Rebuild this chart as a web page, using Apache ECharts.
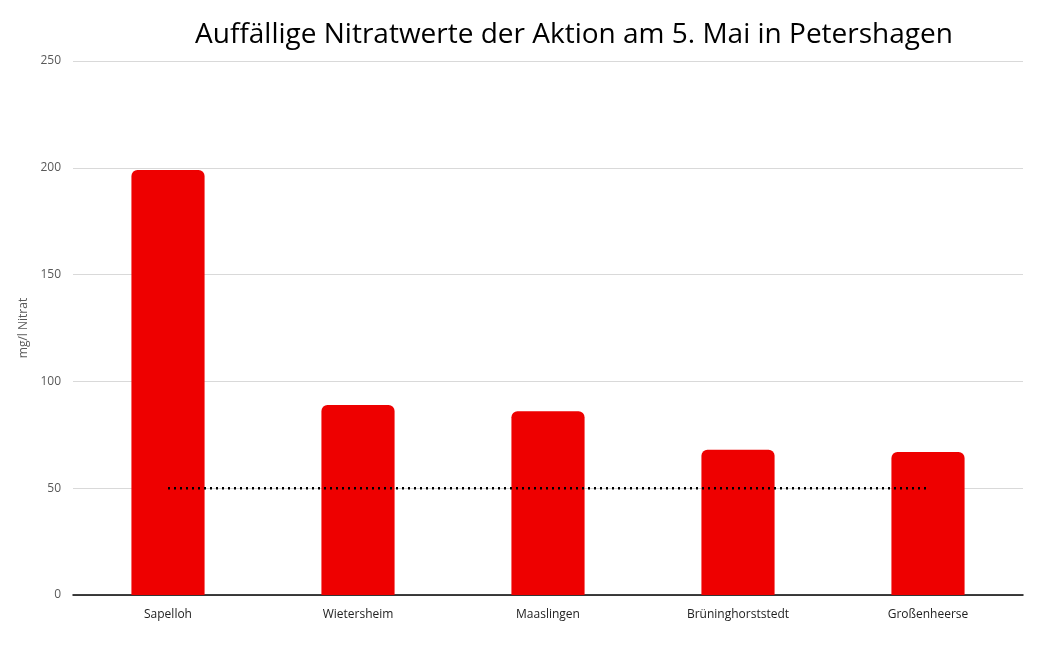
<!DOCTYPE html>
<html>
<head>
<meta charset="utf-8">
<script src="https://cdn.jsdelivr.net/npm/echarts@6/dist/echarts.min.js"></script>
<style>
    html, body { margin: 0; padding: 0; background: #fff; }
    #mainPart { width: 1050px; height: 645px; }
</style>
</head>
<body>
<div id="mainPart"></div>
<script>
// Messorte und Nitratwerte (mg/l)
var orte = ['Sapelloh', 'Wietersheim', 'Maaslingen', 'Brüninghorststedt', 'Großenheerse'];
var nitrat = [199, 89, 86, 68, 67];
// Grenzwert 50 mg/l
var grenzwert = [50, 50, 50, 50, 50];

var myChart = echarts.init(document.getElementById('mainPart'));

var option = {
    animation: false,
    title: {
        text: 'Auffällige Nitratwerte der Aktion am 5. Mai in Petershagen',
        left: 569,
        top: 16,
        textAlign: 'center',
        textStyle: {
            fontFamily: 'Open Sans',
            fontSize: 28,
            fontWeight: 'normal',
            color: '#000'
        }
    },
    grid: {
        left: 73,
        right: 27,
        top: 61,
        bottom: 50
    },
    xAxis: {
        type: 'category',
        data: orte,
        axisLine: { lineStyle: { color: '#000', width: 1.5 } },
        axisTick: { show: false },
        axisLabel: {
            margin: 14,
            fontFamily: 'Open Sans',
            fontSize: 12,
            color: '#222'
        }
    },
    yAxis: {
        type: 'value',
        min: 0,
        max: 250,
        interval: 50,
        name: 'mg/l Nitrat',
        nameLocation: 'middle',
        nameGap: 38,
        nameTextStyle: {
            fontFamily: 'Open Sans',
            fontSize: 12,
            color: '#595959'
        },
        axisLine: { show: false },
        axisTick: { show: false },
        axisLabel: {
            margin: 12,
            fontFamily: 'Open Sans',
            fontSize: 12,
            color: '#595959'
        },
        splitLine: { lineStyle: { color: '#d9d9d9', width: 1 } }
    },
    series: [{
        name: 'Nitrat',
        type: 'bar',
        data: nitrat,
        barWidth: '38.5%',
        itemStyle: {
            color: '#ee0000',
            borderRadius: [6, 6, 0, 0]
        },
        z: 2
    }, {
        name: 'Grenzwert',
        type: 'line',
        data: grenzwert,
        symbol: 'none',
        lineStyle: {
            color: '#000',
            width: 2.5,
            type: [2, 4]
        },
        z: 3
    }]
};

myChart.setOption(option);
</script>
</body>
</html>
